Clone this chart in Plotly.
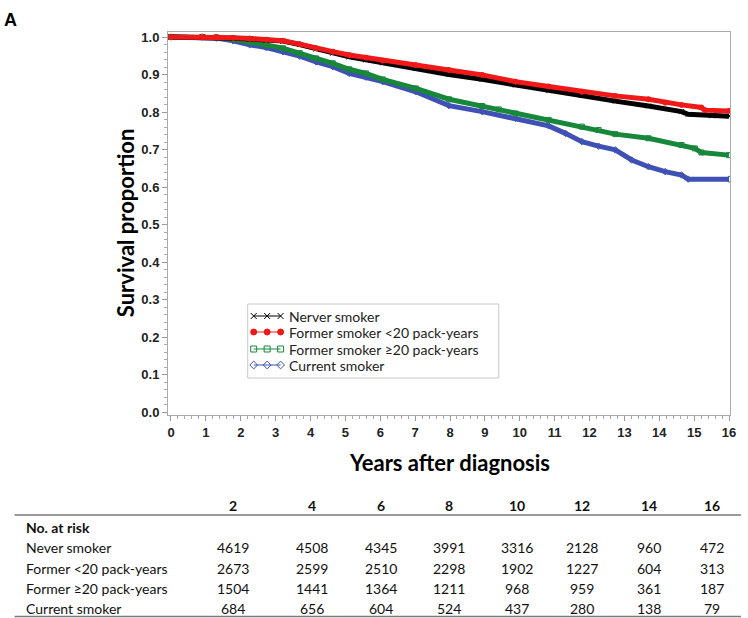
import plotly.graph_objects as go

# ---------------- data ----------------
never_t = [0, 0.9, 1.3, 1.78, 2.26, 2.73, 3.21, 3.69, 4.16, 4.64, 5.11, 5.59, 6.07, 7.02, 7.97,
           8.92, 9.88, 10.83, 11.78, 12.74, 13.69, 14.64, 14.83, 15.5, 16.0]
never_s = [1.0, 1.0, 0.999, 0.997, 0.995, 0.992, 0.989, 0.980, 0.968, 0.957, 0.947, 0.939, 0.931, 0.916, 0.900,
           0.887, 0.872, 0.857, 0.845, 0.829, 0.816, 0.801, 0.794, 0.790, 0.789]

light_t = [0, 0.9, 1.3, 1.78, 2.26, 2.73, 3.21, 3.69, 4.16, 4.64, 5.11, 5.59, 6.07, 7.02, 7.97,
           8.92, 9.88, 10.83, 11.78, 12.74, 13.69, 14.17, 14.64, 15.21, 15.31, 16.0]
light_s = [1.0, 1.0, 1.0, 0.998, 0.996, 0.993, 0.990, 0.981, 0.970, 0.961, 0.952, 0.945, 0.937, 0.925, 0.912,
           0.899, 0.881, 0.868, 0.854, 0.843, 0.834, 0.825, 0.819, 0.812, 0.805, 0.803]

heavy_t = [0, 0.9, 1.3, 1.78, 2.26, 2.73, 3.21, 3.69, 4.16, 4.64, 5.11, 5.59, 6.07, 7.02, 7.97,
           8.92, 9.40, 9.88, 10.83, 11.78, 12.26, 12.74, 13.69, 14.64, 15.02, 15.21, 16.0]
heavy_s = [1.0, 1.0, 0.999, 0.994, 0.988, 0.979, 0.970, 0.957, 0.943, 0.930, 0.914, 0.903, 0.887, 0.863, 0.834,
           0.816, 0.807, 0.796, 0.779, 0.761, 0.752, 0.741, 0.730, 0.712, 0.703, 0.692, 0.685]

current_t = [0, 0.9, 1.3, 1.78, 2.26, 2.73, 3.21, 3.69, 4.16, 4.64, 5.11, 5.59, 6.07, 7.02, 7.97,
             8.92, 9.88, 10.83, 11.31, 11.78, 12.26, 12.74, 13.21, 13.69, 14.17, 14.64, 14.83, 16.0]
current_s = [1.0, 1.0, 0.997, 0.990, 0.979, 0.972, 0.961, 0.949, 0.934, 0.921, 0.903, 0.893, 0.881, 0.854, 0.817,
             0.801, 0.783, 0.763, 0.743, 0.721, 0.709, 0.699, 0.672, 0.654, 0.641, 0.632, 0.621, 0.621]

legend_names = ["Nerver smoker", "Former smoker <20 pack-years",
                "Former smoker \u226520 pack-years", "Current smoker"]

x_ticks = list(range(0, 17))

risk_times = ["2", "4", "6", "8", "10", "12", "14", "16"]
risk_rows = ["Never smoker", "Former <20 pack-years", "Former \u226520 pack-years", "Current smoker"]
risk_never = [4619, 4508, 4345, 3991, 3316, 2128, 960, 472]
risk_light = [2673, 2599, 2510, 2298, 1902, 1227, 604, 313]
risk_heavy = [1504, 1441, 1364, 1211, 968, 959, 361, 187]
risk_current = [684, 656, 604, 524, 437, 280, 138, 79]

# ---------------- layout helpers ----------------
W, H = 748, 618
L, R, T, B = 168, 732, 32, 415


def px(x):
    return (x - L) / (R - L)


def py(y):
    return (B - y) / (B - T)


colors = ["#000000", "#f01818", "#17873a", "#3f51b5"]
symbols = ["x-thin-open", "circle", "square-open", "diamond-open"]
series = [(never_t, never_s), (light_t, light_s), (heavy_t, heavy_s), (current_t, current_s)]

fig = go.Figure()

draw_order = [3, 2, 0, 1]
for i in draw_order:
    t, s = series[i]
    fig.add_trace(go.Scatter(
        x=t, y=s, mode="lines+markers", showlegend=False,
        line=dict(color=colors[i], width=5),
        marker=dict(symbol=symbols[i], size=5, color=colors[i],
                    line=dict(color=colors[i], width=1)),
        hoverinfo="skip"))

# manual legend (pixel overlay axes)
leg_rows = [316, 332, 349, 365]
for i in range(4):
    fig.add_trace(go.Scatter(
        x=[254, 267.5, 281], y=[leg_rows[i]] * 3, xaxis="x2", yaxis="y2",
        mode="lines+markers", showlegend=False, hoverinfo="skip",
        line=dict(color=colors[i], width=1),
        marker=dict(symbol=symbols[i], size=6, color=colors[i],
                    line=dict(color=colors[i], width=1))))

tick_font = dict(family="Liberation Sans", size=13, color="#222", weight="bold")

fig.update_layout(
    xaxis=dict(range=[(L - 171) / 35, (R - 171) / 35], tickvals=x_ticks,
               ticks="outside", ticklen=5, tickcolor="#999", tickwidth=1,
               minor=dict(dtick=0.2, ticks="outside", ticklen=3, tickcolor="#aaa"),
               showline=True, linecolor="#aaa", linewidth=1, mirror=True,
               showgrid=False, zeroline=False, tickfont=tick_font),
    yaxis=dict(range=[(412 - B) / 375, (412 - T) / 375], dtick=0.1, tick0=0,
               tickformat=".1f",
               ticks="outside", ticklen=5, tickcolor="#999", tickwidth=1,
               minor=dict(dtick=0.02, ticks="outside", ticklen=3, tickcolor="#aaa"),
               showline=True, linecolor="#aaa", linewidth=1, mirror=True,
               showgrid=False, zeroline=False, tickfont=tick_font),
    xaxis2=dict(overlaying="x", range=[L, R], visible=False, fixedrange=True),
    yaxis2=dict(overlaying="y", range=[B, T], visible=False, fixedrange=True),
)

ann = []
title_font = dict(family="Lato", size=22, color="#000", weight="bold")
ann.append(dict(text="Survival proportion", x=px(125), y=py(223), textangle=-90,
                font=title_font))
ann.append(dict(text="Years after diagnosis", x=px(450), y=py(462), font=title_font))
ann.append(dict(text="A", x=px(10), y=py(20),
                font=dict(family="Liberation Sans", size=18, color="#000", weight="bold")))

leg_font = dict(family="Lato", size=14, color="#222")
for ry, name in zip(leg_rows, legend_names):
    ann.append(dict(text=name, x=px(287), y=py(ry), xanchor="left", font=leg_font))

col_x = [233, 313, 382, 450, 518, 583, 651, 714]
tab_font = dict(family="Lato", size=14, color="#111")
tab_bold = dict(family="Lato", size=14, color="#111", weight="bold")
for cx, lab in zip(col_x, risk_times):
    ann.append(dict(text=lab, x=px(cx), y=py(505), font=tab_bold))
ann.append(dict(text="No. at risk", x=px(23), y=py(527), xanchor="left", font=tab_bold))
row_y = [547, 568, 588, 608]
for ry, name, vals in zip(row_y, risk_rows, [risk_never, risk_light, risk_heavy, risk_current]):
    ann.append(dict(text=name, x=px(23), y=py(ry), xanchor="left", font=tab_font))
    for cx, v in zip(col_x, vals):
        ann.append(dict(text=str(v), x=px(cx), y=py(ry), font=tab_font))

for a in ann:
    a.setdefault("xanchor", "center")
    a.update(xref="paper", yref="paper", yanchor="middle", showarrow=False)

shapes = [dict(type="rect", xref="paper", yref="paper",
               x0=px(248), x1=px(500), y0=py(304), y1=py(378),
               line=dict(color="#c8c8c8", width=1), fillcolor="rgba(0,0,0,0)", layer="below")]
for ly in [515, 616.5]:
    shapes.append(dict(type="line", xref="paper", yref="paper",
                       x0=px(14), x1=px(743), y0=py(ly), y1=py(ly),
                       line=dict(color="#777", width=1.5)))

fig.update_layout(
    width=W, height=H, autosize=False,
    margin=dict(l=L, r=W - R, t=T, b=H - B, pad=0),
    paper_bgcolor="white", plot_bgcolor="white",
    annotations=ann, shapes=shapes, showlegend=False,
)

fig.write_html("out.html", config={"displayModeBar": False},
               post_script="document.body.style.margin='0px';")
